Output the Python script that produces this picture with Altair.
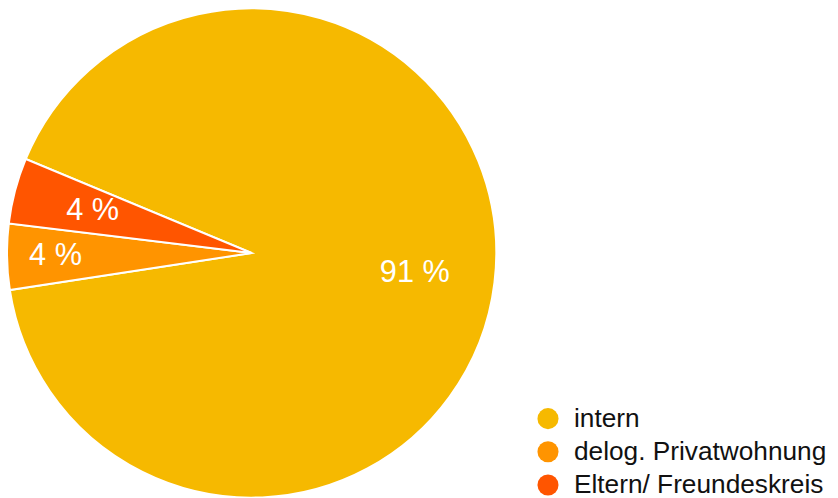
import math
import altair as alt
import pandas as pd

categories = ["intern", "delog. Privatwohnung", "Eltern/ Freundeskreis"]
counts = [21, 1, 1]
colors = ["#F6B900", "#FF9400", "#FF5500"]

total = sum(counts)
df = pd.DataFrame({
    "cat": categories,
    "n": counts,
    "idx": list(range(len(categories))),
    "label": [f"{round(c / total * 100)} %" for c in counts],
})

start = math.radians(292.6)
theta = alt.Theta("n:Q", stack=True, scale=alt.Scale(range=[start, start + 2 * math.pi]))
color = alt.Color(
    "cat:N",
    scale=alt.Scale(domain=categories, range=colors),
    sort=categories,
    legend=alt.Legend(
        title=None, orient="none", legendX=532, legendY=399,
        symbolType="circle", symbolSize=452, symbolStrokeWidth=0,
        labelFontSize=26.5, labelFont="Liberation Sans", labelColor="#111111",
        labelOffset=13, rowPadding=6.5, labelLimit=400, padding=0,
    ),
)
cx, cy, R = 246, 245, 247

base = alt.Chart(df).encode(
    theta=theta,
    order=alt.Order("idx:Q"),
    x=alt.value(cx),
    y=alt.value(cy),
)

pie = base.mark_arc(outerRadius=R, stroke="white", strokeWidth=2).encode(color=color)

is_delog = alt.datum.cat == "delog. Privatwohnung"

labels_in = base.mark_text(radius=166, fontSize=31, font="Liberation Sans", color="white",
                           align="center", baseline="middle").encode(
    text=alt.condition(is_delog, alt.value(""), alt.Text("label:N")),
)
labels_out = base.mark_text(radius=198, fontSize=31, font="Liberation Sans", color="white",
                            align="center", baseline="middle").encode(
    text=alt.condition(is_delog, alt.Text("label:N"), alt.value("")),
)

chart = alt.layer(pie, labels_in, labels_out).properties(
    width=830, height=490, padding=0, autosize=alt.AutoSizeParams(type="none")
).configure_view(stroke=None)

chart.save("out.html", embed_options={"renderer": "svg", "actions": False})
